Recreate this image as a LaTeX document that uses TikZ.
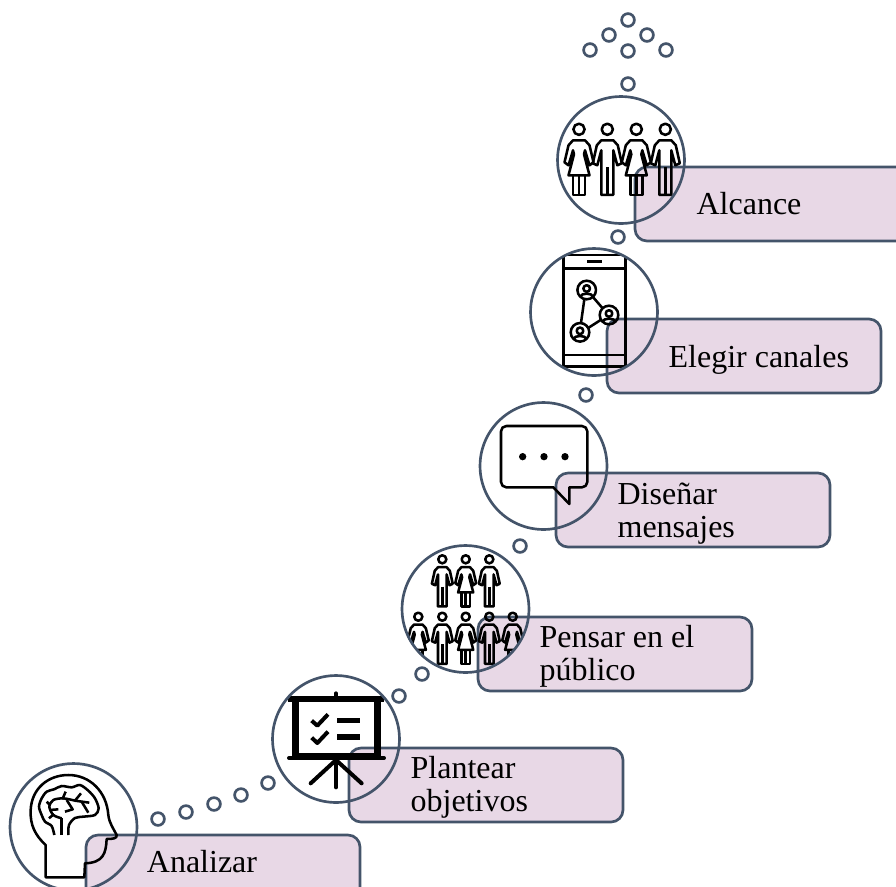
\documentclass[tikz,border=0pt]{standalone}
\usepackage{fontspec}
\setmainfont{Liberation Serif}
\usepackage{tikz}
\usetikzlibrary{positioning}
\definecolor{linea}{HTML}{44546A}
\definecolor{rosa}{HTML}{E8D8E6}
\tikzset{
    etapa/.style={draw=linea, fill=rosa, line width=2pt, rounded corners=9pt, minimum width=205.5pt, minimum height=55.5pt, inner sep=0pt, outer sep=0pt, anchor=north west},
    etiqueta/.style={anchor=west, align=left, inner sep=0pt, font=\fontsize{24}{24.75}\selectfont},
    aro/.style={draw=linea, line width=2pt, circle, minimum size=95.2pt, inner sep=0pt, outer sep=0pt},
    punto/.style={draw=linea, line width=2pt, circle, minimum size=9.6pt, inner sep=0pt, outer sep=0pt},
    icono/.style={line width=1.9pt, line join=round, black},
    lupa/.style={shift={(#1)}, scale=0.3333},
    hombre/.pic={
        \draw[icono] (0,0) circle (5.6);
        \draw[icono] (-6,65.5) -- (-6,21) -- (-10,36) -- (-14.5,34) -- (-10.5,16) -- (-6,11) -- (6,11) -- (10.5,16) -- (14.5,34) -- (10,36) -- (6,21) -- (6,65.5) -- cycle;
        \draw[icono] (0,38) -- (0,65.5);
    },
    mujer/.pic={
        \draw[icono] (0,0) circle (5.6);
        \draw[icono] (-6,46) -- (-6,65.5) -- (6,65.5) -- (6,46);
        \draw[icono] (0,46) -- (0,65.5);
        \draw[icono] (-10.5,46) -- (-5,25) -- (-6,21) -- (-10.5,36) -- (-14.5,33) -- (-10.5,16) -- (-6,11) -- (6,11) -- (10.5,16) -- (14.5,33) -- (10.5,36) -- (6,21) -- (5,25) -- (10.5,46) -- cycle;
    },
    nodo/.pic={
        \draw[icono] (0,0) circle (9.3);
        \draw[icono] (0,-1.5) circle (3.3);
        \draw[icono] (-6.5,7) .. controls (-6,2.5) and (6,2.5) .. (6.5,7);
    }
}
\begin{document}
\begin{tikzpicture}[x=0.75pt, y=-0.75pt]
    \path[use as bounding box, clip] (0,0) rectangle (896,886);
    \node[etapa] (analizar) at (86,835) {};
    \node[etapa] (plantear) at (349,748) {};
    \node[etapa] (pensar) at (478,617) {};
    \node[etapa] (disenar) at (556,473) {};
    \node[etapa] (elegir) at (607,319) {};
    \node[etapa] (alcance) at (635,167) {};

    \node[etiqueta, right=45.5pt of analizar.west, yshift=7.5pt] (tanalizar) {Analizar};
    \node[etiqueta, right=46pt of plantear.west, yshift=-2pt] (tplantear) {Plantear\\objetivos};
    \node[etiqueta, right=46pt of pensar.west, yshift=-2pt] (tpensar) {Pensar en el\\público};
    \node[etiqueta, right=46pt of disenar.west, yshift=-3pt] (tdisenar) {Diseñar\\mensajes};
    \node[etiqueta, right=46pt of elegir.west, yshift=-3pt] (telegir) {Elegir canales};
    \node[etiqueta, right=46pt of alcance.west] (talcance) {Alcance};

    \foreach \x/\y in {628/20, 609/35, 647/35, 590/50, 628/51, 666/50, 628/84, 618/237, 586/395, 520/546, 422/674, 399/696, 268/783, 241/795, 214/804, 186/812, 158/819}
        \node[punto] at (\x,\y) {};

    \begin{scope}
        \clip (73,827) circle (64);
        \begin{scope}[lupa={0,750}]
            \draw[icono] (137,382) -- (137,285) .. controls (105,255) and (90,225) .. (92,180) .. controls (95,115) and (145,75) .. (205,75) .. controls (270,75) and (320,125) .. (325,195) .. controls (328,220) and (340,235) .. (350,255) .. controls (352,265) and (340,267) .. (320,267) .. controls (318,310) and (310,338) .. (255,340) -- (253,382) -- cycle;
            \draw[icono] plot[smooth] coordinates {(163,255) (155,228) (135,215) (125,195) (117,170) (125,145) (140,125) (162,118) (185,108) (215,112) (240,105) (265,122) (285,145) (296,175) (285,195) (250,200) (225,204) (207,225) (205,255)};
            \draw[icono] (185,255) -- (185,205);
            \draw[icono] plot[smooth] coordinates {(185,205) (160,195) (148,170) (160,150) (190,145) (225,152)};
            \draw[icono] (140,155) -- (150,165);
            \draw[icono] (148,180) -- (175,178);
            \draw[icono] (162,192) -- (147,205);
            \draw[icono] (187,148) -- (197,125);
            \draw[icono] (225,152) -- (243,130);
            \draw[icono] (225,152) -- (268,158);
            \draw[icono] (245,155) -- (265,188);
            \draw[icono] (200,150) -- (218,178) -- (195,185);
        \end{scope}
    \end{scope}
    \begin{scope}
        \clip (336,739) circle (64);
        \begin{scope}[lupa={260,670}]
            \draw[icono, line width=4.5pt, line cap=butt] (85,88) -- (372,88);
            \draw[icono, line width=5.4pt] (106,88) -- (106,258);
            \draw[icono, line width=5.2pt] (352,88) -- (352,258);
            \draw[icono, line width=4.5pt] (118,259) -- (342,259);
            \draw[icono, line width=3pt, line cap=round] (87,264) -- (372,264);
            \draw[icono, line width=3pt, line cap=round] (228,70) -- (228,85);
            \draw[icono, line width=3pt, line cap=round] (228,270) -- (228,352);
            \draw[icono, line width=3pt, line cap=round] (152,340) -- (228,270) -- (305,340);
            \draw[icono, line width=3pt] (155,152) -- (172,167) -- (204,133);
            \draw[icono, line width=3pt] (155,203) -- (172,219) -- (204,185);
            \draw[icono, line width=4pt] (232,151) -- (300,151);
            \draw[icono, line width=4pt] (232,201) -- (300,201);
        \end{scope}
    \end{scope}
    \begin{scope}
        \clip (465,609) circle (64);
        \pic[scale=0.72] at (442.3,559.3) {hombre};
        \pic[scale=0.72] at (465.7,559.3) {mujer};
        \pic[scale=0.72] at (489.3,559.3) {hombre};
        \pic[scale=0.72] at (418.3,616.7) {mujer};
        \pic[scale=0.72] at (442.3,616.7) {hombre};
        \pic[scale=0.72] at (465.7,616.7) {mujer};
        \pic[scale=0.72] at (489.3,616.7) {hombre};
        \pic[scale=0.72] at (512.7,616.7) {mujer};
    \end{scope}
    \begin{scope}[lupa={470,400}]
        \draw[icono] (298,312) -- (250,262) [rounded corners=4pt] -- (93,262) -- (93,78) -- (352,78) -- (352,262) [sharp corners] -- (298,262) -- cycle;
        \foreach \x in {158,222,285}
            \fill (\x,170) circle (11);
    \end{scope}
    \begin{scope}
        \clip (594,312) circle (64);
        \begin{scope}[lupa={525,240}]
            \draw[icono] (115,45) rectangle (302,380);
            \draw[icono] (115,85) -- (302,85);
            \draw[icono] (115,345) -- (302,345);
            \draw[icono] (187,65) -- (232,65);
            \draw[icono] (178,178) -- (168,249);
            \draw[icono] (203,170) -- (233,205);
            \draw[icono] (191,263) -- (227,240);
        \end{scope}
        \pic at (586.7,290) {nodo};
        \pic at (609,315) {nodo};
        \pic at (580,332.3) {nodo};
    \end{scope}
    \begin{scope}
        \clip (621,160) circle (64);
        \pic at (579,129.3) {mujer};
        \pic at (607.3,129.3) {hombre};
        \pic at (636.3,129.3) {mujer};
        \pic at (665.3,129.3) {hombre};
    \end{scope}

    \node[aro] (aroanalizar) at (73.5,827) {};
    \node[aro] (aroplantear) at (336,739) {};
    \node[aro] (aropensar) at (465.5,609) {};
    \node[aro] (arodisenar) at (543.5,466) {};
    \node[aro] (aroelegir) at (594,312) {};
    \node[aro] (aroalcance) at (621,160) {};
\end{tikzpicture}
\end{document}
